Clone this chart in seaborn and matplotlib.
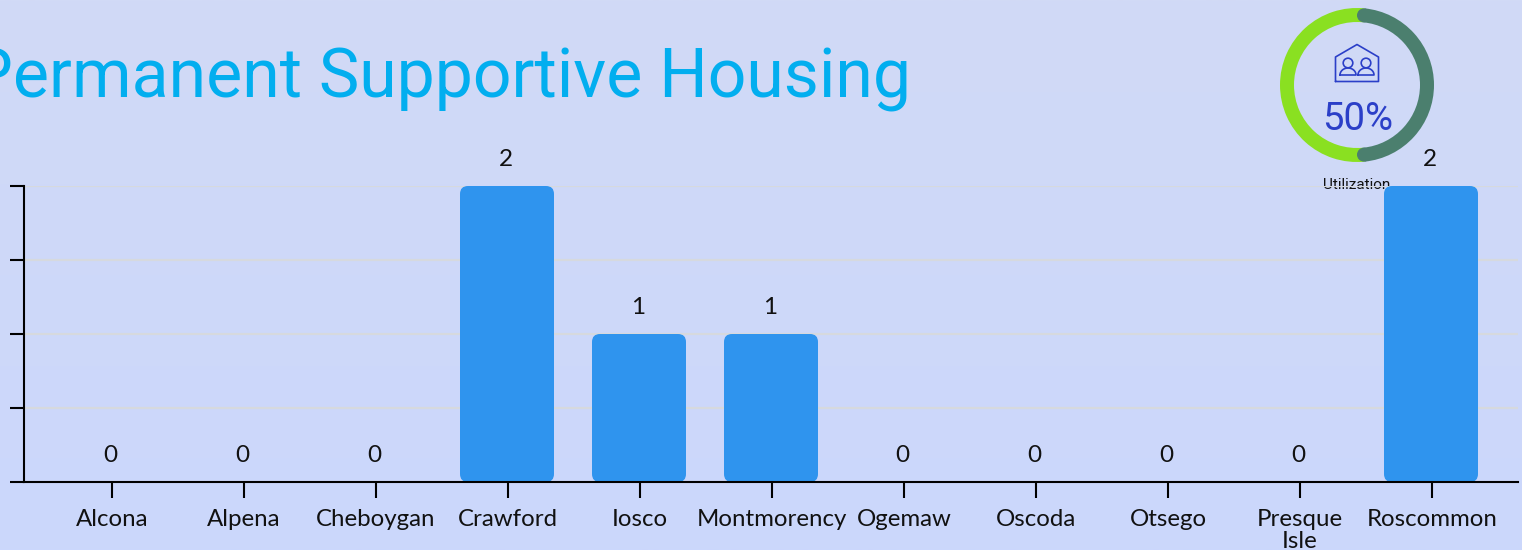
import numpy as np
import pandas as pd
import matplotlib
matplotlib.use("Agg")
import matplotlib.pyplot as plt
from matplotlib.patches import FancyBboxPatch, Circle, Rectangle
from matplotlib.colors import LinearSegmentedColormap
import seaborn as sns

counties = ["Alcona", "Alpena", "Cheboygan", "Crawford", "Iosco", "Montmorency",
            "Ogemaw", "Oscoda", "Otsego", "Presque\nIsle", "Roscommon"]
units = [0, 0, 0, 2, 1, 1, 0, 0, 0, 0, 2]
y_ticks = [0, 0.5, 1, 1.5, 2]
utilization = [50, 50]
title = "Permanent Supportive Housing"
gauge_text = "50%"
gauge_label = "Utilization"

W, H = 1522, 550
BLUE = "#2f94ee"
sns.set_theme(style="white")
fig = plt.figure(figsize=(W / 100, H / 100), dpi=100)

def px_axes(x0, y0, x1, y1, **kw):
    return fig.add_axes([x0 / W, 1 - y1 / H, (x1 - x0) / W, (y1 - y0) / H], **kw)

# background gradient
bg = fig.add_axes([0, 0, 1, 1], zorder=0)
cmap = LinearSegmentedColormap.from_list("bg", ["#d1daf6", "#cbd7fc"])
bg.imshow(np.linspace(0, 1, 256)[:, None], aspect="auto", cmap=cmap, extent=[0, W, H, 0])
bg.set_xlim(0, W); bg.set_ylim(H, 0); bg.axis("off")

# title (runs off the left edge, as in the reference)
bg.text(-30, 98, title, family="Roboto", fontsize=49, color="#02aeef", ha="left", va="baseline")

# clipped caption under the gauge
cap = bg.text(1357, 189, gauge_label, family="Roboto", fontsize=11, color="#111111",
              ha="center", va="baseline")
cap.set_clip_path(Rectangle((1300, 170), 120, 20, transform=bg.transData))

# main chart
ax = px_axes(24, 186, 1518, 482, zorder=2)
ax.patch.set_alpha(0)
df = pd.DataFrame({"county": counties, "units": units})
sns.barplot(data=df, x="county", y="units", color=BLUE, saturation=1, width=94 / 132, ax=ax, zorder=3)
ax.set_xlim((24 - 112) / 132, (1518 - 112) / 132)
ax.set_ylim(0, 2)
ax.set_xlabel(""); ax.set_ylabel("")
ax.set_yticks(y_ticks)
ax.set_yticklabels([])
ax.grid(axis="y", color="#d6d9de", lw=1.6, zorder=1)
ax.grid(axis="x", visible=False)
ax.set_axisbelow(True)
for s in ["top", "right"]:
    ax.spines[s].set_visible(False)
for s in ["left", "bottom"]:
    ax.spines[s].set_color("black")
    ax.spines[s].set_linewidth(1.5)
    ax.spines[s].set_zorder(6)
ax.tick_params(axis="y", left=True, length=10, width=1.5, color="black", pad=0)
ax.tick_params(axis="x", bottom=True, length=11.5, width=1.5, color="black", pad=8)
ax.set_xticks(range(len(counties)))
ax.set_xticklabels(counties, family="Lato", fontsize=17.3, color="#111111", linespacing=1.08)

labels = ax.bar_label(ax.containers[0], labels=[str(v) for v in units], padding=11.5,
                      family="Lato", fontsize=17.5, color="#111111", zorder=7)
for lab in labels:
    ox, oy = lab.xyann
    lab.xyann = (ox - 1.5, oy)

# round the bar corners, keeping each bar's geometry from seaborn
fig.canvas.draw()
for bar in list(ax.containers[0]):
    if bar.get_height() > 0:
        (x0, y0), (x1, y1) = ax.transData.transform(
            [(bar.get_x(), bar.get_y()), (bar.get_x() + bar.get_width(), bar.get_y() + bar.get_height())])
        x0 -= 1; x1 -= 1
        r = 8
        ax.add_patch(FancyBboxPatch((x0 + r, y0 + r), x1 - x0 - 2 * r, y1 - y0 - 2 * r,
                                    boxstyle=f"round,pad={r},rounding_size={r}",
                                    transform=None, fc=BLUE, ec="none", zorder=4, clip_on=False))
    bar.set_visible(False)

# gauge: a full green ring, the dark arc set in by its round caps
g = px_axes(1357 - 78, 85 - 78, 1357 + 78, 85 + 78, zorder=3)
g.set_aspect("equal")
DARK, GREEN = "#4b7f6e", "#8ae021"
wedges, _ = g.pie(utilization, colors=[DARK, GREEN], startangle=90, counterclock=False, radius=77,
                  wedgeprops={"width": 14, "linewidth": 0})
g.set_xlim(-78, 78); g.set_ylim(-78, 78)
inset = np.degrees(7 / 70)
wedges[0].set_zorder(3)
wedges[1].set_zorder(2)
wedges[0].set_theta1(wedges[0].theta1 + inset)
wedges[0].set_theta2(wedges[0].theta2 - inset)
wedges[1].set_theta1(wedges[1].theta1 - inset)
wedges[1].set_theta2(wedges[1].theta2 + inset)
for ang in (wedges[0].theta1, wedges[0].theta2):
    a = np.radians(ang)
    g.add_patch(Circle((70 * np.cos(a), 70 * np.sin(a)), 7, fc=DARK, ec="none", zorder=5))
g.axis("off")
g.patch.set_alpha(0)

# icon and percentage, in pixel coordinates
ICON = "#2b3fc8"
over = fig.add_axes([0, 0, 1, 1], zorder=4)
over.set_xlim(0, W); over.set_ylim(H, 0); over.axis("off"); over.patch.set_alpha(0)
over.plot([1335.5, 1335.5, 1357, 1378.5, 1378.5, 1335.5], [81.5, 57, 44.5, 57, 81.5, 81.5], color=ICON, lw=1.2)
for cx in (1348, 1366):
    over.add_patch(Circle((cx, 63), 4.8, fc="none", ec=ICON, lw=1.2))
    t = np.linspace(np.pi, 0, 30)
    over.plot(np.r_[cx - 8, cx + 8 * np.cos(t), cx - 8], np.r_[75, 75 - 7 * np.sin(t), 75], color=ICON, lw=1.2)
over.text(1357.5, 130, gauge_text, family="Roboto", fontsize=27.5, color=ICON, ha="center", va="baseline")

fig.savefig("out.png", dpi=100)
